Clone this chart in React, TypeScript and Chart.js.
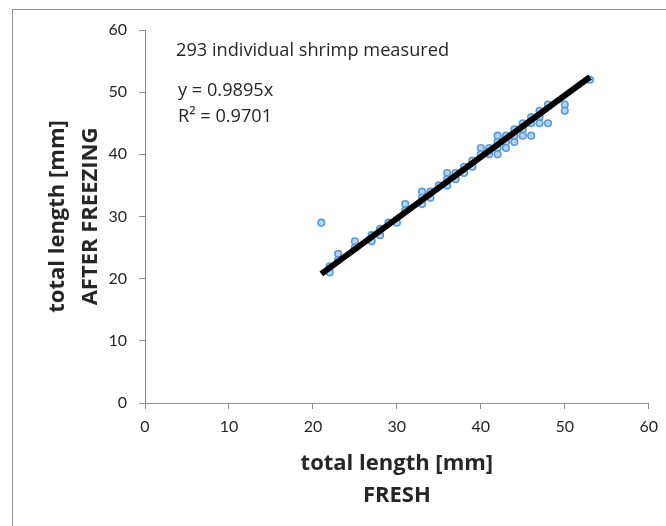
import React, { useEffect, useRef } from "react";
import { Chart, registerables } from "chart.js";

Chart.register(...registerables);

// total length fresh [mm]
const FRESH_MM = [
  21, 22, 22, 23, 23, 25, 25, 27, 27, 28, 28, 29, 30, 31, 31, 33, 33, 33, 34, 34, 35,
  36, 36, 36, 37, 37, 38, 38, 39, 39, 40, 40, 41, 41, 42, 42, 42, 42, 43, 43, 43,
  44, 44, 44, 45, 45, 45, 46, 46, 46, 47, 47, 47, 48, 48, 50, 50, 53,
];
// total length after freezing [mm]
const FROZEN_MM = [
  29, 21, 22, 24, 23, 26, 25, 27, 26, 28, 27, 29, 29, 32, 31, 34, 33, 32, 34, 33, 35,
  37, 36, 35, 37, 36, 38, 37, 39, 38, 41, 40, 41, 40, 43, 42, 41, 40, 43, 42, 41,
  44, 43, 42, 45, 44, 43, 46, 45, 43, 47, 46, 45, 48, 45, 48, 47, 52,
];

const TREND_SLOPE = 0.9895;
const TREND_X = [21, 53];

const AXIS_MIN = 0;
const AXIS_MAX = 60;
const AXIS_STEP = 10;

const X_TITLE = ["total length [mm]", "FRESH"];
const Y_TITLE = ["total length [mm]", "AFTER FREEZING"];
const NOTE = "293 individual shrimp measured";
const EQUATION = "y = 0.9895x";
const R_SQUARED = "R\u00B2 = 0.9701";

const FONT = "'Open Sans'";
const TICK_FONT = "Lato";
const TEXT_COLOR = "#262626";
const AXIS_COLOR = "#8c8c8c";

const textPlugin = {
  id: "textPlugin",
  beforeDraw(chart: any) {
    const ctx = chart.ctx;
    ctx.save();
    ctx.fillStyle = "#ffffff";
    ctx.fillRect(0, 0, chart.width, chart.height);
    ctx.strokeStyle = "#8f8f8f";
    ctx.lineWidth = 1;
    ctx.strokeRect(12.5, 9.5, chart.width + 20, chart.height + 20);
    ctx.restore();
  },
  afterDraw(chart: any) {
    const ctx = chart.ctx;
    const a = chart.chartArea;
    ctx.save();
    ctx.fillStyle = TEXT_COLOR;
    ctx.textBaseline = "alphabetic";

    // annotation
    ctx.textAlign = "left";
    ctx.font = `18.2px ${FONT}`;
    ctx.fillText(NOTE, a.left + 31, a.top + 26);
    ctx.fillText(EQUATION, a.left + 33, a.top + 66);
    ctx.fillText(R_SQUARED, a.left + 33, a.top + 92);

    // x title
    ctx.textAlign = "center";
    ctx.font = `bold 22px ${FONT}`;
    const cx = (a.left + a.right) / 2;
    ctx.fillText(X_TITLE[0], cx, a.bottom + 67);
    ctx.fillText(X_TITLE[1], cx, a.bottom + 99);

    // y title
    const cy = (a.top + a.bottom) / 2;
    ctx.save();
    ctx.translate(64, cy);
    ctx.rotate(-Math.PI / 2);
    ctx.fillText(Y_TITLE[0], 0, 0);
    ctx.restore();
    ctx.save();
    ctx.translate(97, cy);
    ctx.rotate(-Math.PI / 2);
    ctx.fillText(Y_TITLE[1], 0, 0);
    ctx.restore();

    ctx.restore();
  },
};

export default function App() {
  const ref = useRef<HTMLCanvasElement | null>(null);

  useEffect(() => {
    if (!ref.current) return;
    const points = FRESH_MM.map((x, i) => ({ x, y: FROZEN_MM[i] }));
    const trend = TREND_X.map((x) => ({ x, y: TREND_SLOPE * x }));

    const tickCommon = {
      color: TEXT_COLOR,
      font: { family: TICK_FONT, size: 16 },
      stepSize: AXIS_STEP,
    };

    const chart = new Chart(ref.current, {
      type: "scatter",
      data: {
        datasets: [
          {
            type: "line",
            label: "trend",
            data: trend,
            borderColor: "#000000",
            borderWidth: 6,
            pointRadius: 0,
            borderCapStyle: "butt",
            fill: false,
          } as any,
          {
            label: "shrimp",
            data: points,
            pointRadius: 3.3,
            pointBorderWidth: 1.6,
            backgroundColor: "#b7d2ee",
            borderColor: "#5b9bd5",
          },
        ],
      },
      options: {
        responsive: false,
        maintainAspectRatio: false,
        animation: false,
        layout: { padding: { left: 0, top: 30, right: 16, bottom: 0 } },
        plugins: {
          legend: { display: false },
          tooltip: { enabled: false },
          title: { display: false },
        },
        scales: {
          x: {
            type: "linear",
            min: AXIS_MIN,
            max: AXIS_MAX,
            ticks: { ...tickCommon, padding: 8, maxRotation: 0 },
            grid: {
              display: true,
              drawOnChartArea: false,
              drawTicks: true,
              tickLength: 6,
              color: AXIS_COLOR,
            },
            border: { display: true, color: AXIS_COLOR, width: 1 },
            afterFit: (s: any) => {
              s.height = 123;
            },
          },
          y: {
            type: "linear",
            min: AXIS_MIN,
            max: AXIS_MAX,
            ticks: { ...tickCommon, padding: 12 },
            grid: {
              display: true,
              drawOnChartArea: false,
              drawTicks: true,
              tickLength: 6,
              color: AXIS_COLOR,
            },
            border: { display: true, color: AXIS_COLOR, width: 1 },
            afterFit: (s: any) => {
              s.width = 145;
            },
          },
        },
      },
      plugins: [textPlugin],
    });
    return () => chart.destroy();
  }, []);

  return (
    <div style={{ position: "absolute", left: 0, top: 0, width: 666, height: 526 }}>
      <canvas ref={ref} width={666} height={526} style={{ width: 666, height: 526 }} />
    </div>
  );
}
